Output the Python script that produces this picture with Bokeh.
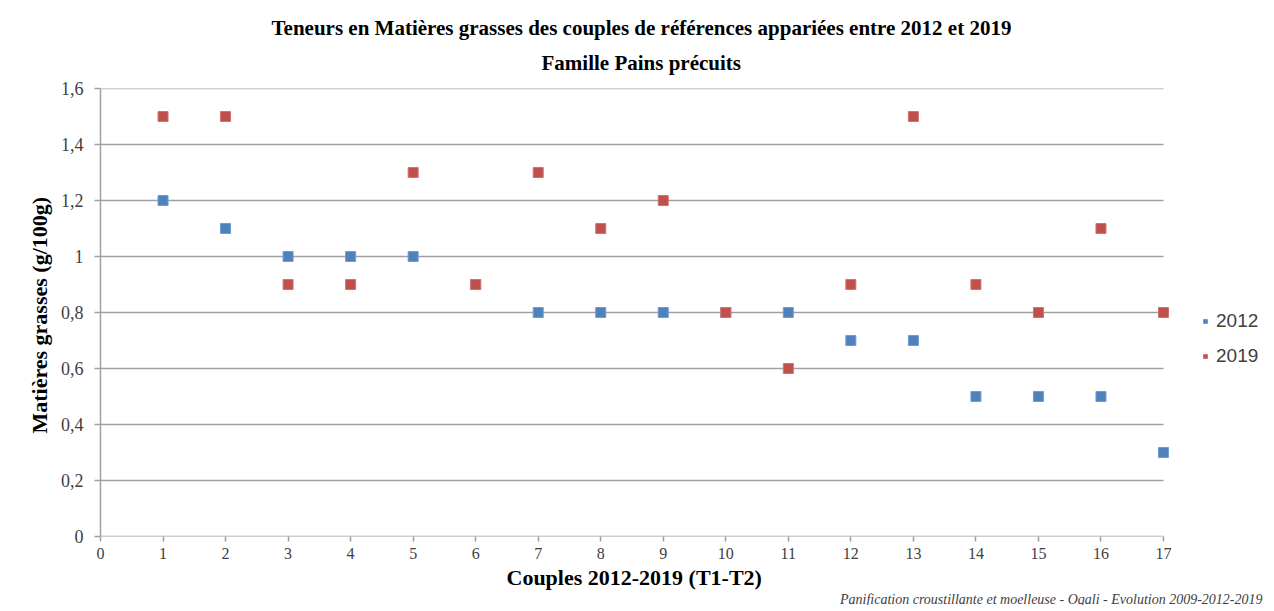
from bokeh.plotting import figure
from bokeh.models import (ColumnDataSource, FixedTicker, Legend, LegendItem, Title, Range1d)
from bokeh.embed import file_html
from bokeh.resources import INLINE

couples = list(range(1, 18))
mg_2012 = [1.2, 1.1, 1.0, 1.0, 1.0, 0.9, 0.8, 0.8, 0.8, 0.8, 0.8, 0.7, 0.7, 0.5, 0.5, 0.5, 0.3]
mg_2019 = [1.5, 1.5, 0.9, 0.9, 1.3, 0.9, 1.3, 1.1, 1.2, 0.8, 0.6, 0.9, 1.5, 0.9, 0.8, 1.1, 0.8]
y_ticks = [0, 0.2, 0.4, 0.6, 0.8, 1.0, 1.2, 1.4, 1.6]
y_tick_labels = ["0", "0,2", "0,4", "0,6", "0,8", "1", "1,2", "1,4", "1,6"]
x_ticks = list(range(0, 18))
series_names = ["2012", "2019"]
title_lines = ["Teneurs en Matières grasses des couples de références appariées entre 2012 et 2019",
               "Famille Pains précuits"]
x_label = "Couples 2012-2019 (T1-T2)"
y_label = "Matières grasses  (g/100g)"
footer = "Panification croustillante et moelleuse - Oqali - Evolution 2009-2012-2019"

BLUE = "#4f81bd"
RED = "#c0504d"
GRID = "#a0a0a0"
SERIF = "Liberation Serif"

W, H = 1270, 605
LEFT, TOP, BOTTOM = 100, 88, 69
PLOT_W = 1063            # pixel width of the 0..17 axis span
frame_w = W - LEFT       # frame extends to the right edge to host the legend
x_min, x_max = x_ticks[0], x_ticks[-1]
x_end = x_min + (x_max - x_min) * frame_w / PLOT_W

p = figure(width=W, height=H, output_backend="svg", toolbar_location=None,
           x_range=Range1d(x_min, x_end), y_range=Range1d(y_ticks[0], y_ticks[-1]),
           min_border_left=LEFT, min_border_right=0, min_border_top=TOP,
           min_border_bottom=BOTTOM)
p.outline_line_color = None
p.background_fill_color = "white"
p.border_fill_color = "white"

p.title = None
p.add_layout(Title(text=title_lines[1], align="left", offset=441, text_font=SERIF,
                   text_font_size="21px", text_font_style="bold", text_color="#000000",
                   standoff=27), "above")
p.add_layout(Title(text=title_lines[0], align="left", offset=171, text_font=SERIF,
                   text_font_size="21px", text_font_style="bold", text_color="#000000",
                   standoff=-8), "above")

# horizontal gridlines limited to the 0..17 span
p.segment(x0=[x_min] * len(y_ticks), y0=y_ticks, x1=[x_max] * len(y_ticks), y1=y_ticks,
          line_color=GRID, line_width=1.5)

src12 = ColumnDataSource(dict(x=couples, y=mg_2012))
src19 = ColumnDataSource(dict(x=couples, y=mg_2019))
r12 = p.scatter("x", "y", source=src12, marker="square", size=10,
                fill_color=BLUE, line_color="#6f9bd6", line_width=1)
r19 = p.scatter("x", "y", source=src19, marker="square", size=10,
                fill_color=RED, line_color="#d27270", line_width=1)

# axes
p.xaxis.ticker = FixedTicker(ticks=x_ticks)
p.xaxis.minor_tick_line_color = None
p.xaxis.major_tick_out = 5
p.xaxis.major_tick_in = 0
p.xaxis.axis_line_color = None
p.xaxis.major_tick_line_color = GRID
p.xaxis.major_tick_line_width = 1.5
p.xaxis.major_label_text_font = SERIF
p.xaxis.major_label_text_font_size = "16px"
p.xaxis.major_label_text_color = "#404040"
p.xaxis.major_label_standoff = 6

p.yaxis.ticker = FixedTicker(ticks=y_ticks)
p.yaxis.major_label_overrides = {t: l for t, l in zip(y_ticks, y_tick_labels)}
p.yaxis.minor_tick_line_color = None
p.yaxis.major_tick_out = 6
p.yaxis.major_tick_in = 0
p.yaxis.axis_line_color = GRID
p.yaxis.axis_line_width = 1.5
p.yaxis.major_tick_line_color = GRID
p.yaxis.major_tick_line_width = 1.5
p.yaxis.major_label_text_font = SERIF
p.yaxis.major_label_text_font_size = "18px"
p.yaxis.major_label_text_color = "#404040"
p.yaxis.major_label_standoff = 11
p.yaxis.axis_label = y_label
p.yaxis.axis_label_text_font = SERIF
p.yaxis.axis_label_text_font_size = "22px"
p.yaxis.axis_label_text_font_style = "bold"
p.yaxis.axis_label_text_color = "#000000"
p.yaxis.axis_label_standoff = 6

p.xgrid.grid_line_color = None
p.ygrid.grid_line_color = None

# x-axis title, centred under the 0..17 span (left-aligned with an offset)
p.add_layout(Title(text=x_label, align="left", offset=406, standoff=2,
                   text_font=SERIF, text_font_style="bold",
                   text_font_size="22px", text_color="#000000"), "below")
p.add_layout(Title(text=footer, align="right", offset=8, standoff=-2,
                   text_font=SERIF, text_font_style="italic",
                   text_font_size="14px", text_color="#404040"), "below")

legend = Legend(items=[LegendItem(label=series_names[0], renderers=[r12]),
                       LegendItem(label=series_names[1], renderers=[r19])],
                location=(PLOT_W + 37, 169), border_line_color=None, background_fill_alpha=0,
                label_text_font="Liberation Sans", label_text_font_size="19px",
                label_text_color="#404040", glyph_width=10, glyph_height=10,
                label_height=20, spacing=13, label_standoff=6, padding=0, margin=0)
p.add_layout(legend, "center")

open("out.html", "w").write(file_html(p, INLINE))
